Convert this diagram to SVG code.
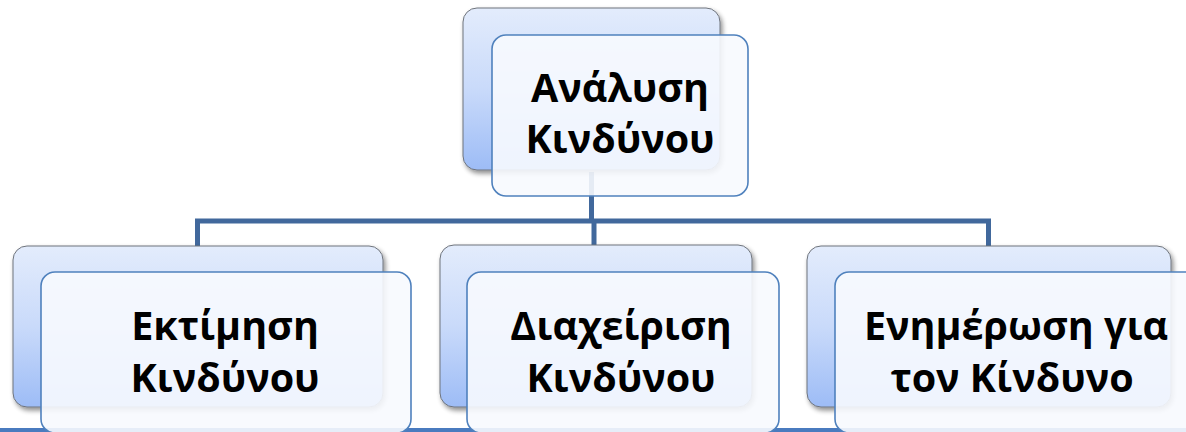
<svg xmlns="http://www.w3.org/2000/svg" width="1186" height="432" viewBox="0 0 1186 432">
<style>
.back{fill:url(#bg);stroke:#6f747c;stroke-width:1;filter:url(#sh)}
.front{fill:#f7f9fe;fill-opacity:0.9;stroke:#4f81bd;stroke-width:1.6}
.conn{fill:none;stroke:#41689c;stroke-width:5}
.lbl{font-family:"Open Sans","DejaVu Sans",sans-serif;font-weight:700;font-size:39.5px;fill:#000;text-anchor:middle}
</style>
<defs>
<linearGradient id="bg" x1="0" y1="0" x2="0" y2="1">
<stop offset="0" stop-color="#e3ecfc"/>
<stop offset="0.5" stop-color="#c9dafa"/>
<stop offset="1" stop-color="#9dbcf6"/>
</linearGradient>
<filter id="sh" x="-10%" y="-10%" width="120%" height="125%">
<feGaussianBlur in="SourceAlpha" stdDeviation="2.5"/>
<feOffset dx="2" dy="3" result="b"/>
<feComponentTransfer><feFuncA type="linear" slope="0.45"/></feComponentTransfer>
<feMerge><feMergeNode/><feMergeNode in="SourceGraphic"/></feMerge>
</filter>
</defs>
<rect x="0" y="428" width="1186" height="4" fill="#4a7bbf"/>
<g id="connectors">
<path class="conn" d="M591.5 172 V221"/>
<path class="conn" d="M197.5 246 V221 H988.5 V246 M594 221 V246"/>
</g>
<g id="node-top">
<rect class="back" x="463" y="8" width="257" height="162" rx="14"/>
<rect class="front" x="492" y="35" width="256" height="161" rx="14"/>
<text class="lbl" x="620" y="102">Ανάλυση</text>
<text class="lbl" x="620" y="153">Κινδύνου</text>
</g>
<g id="node-left">
<rect class="back" x="13" y="246" width="370" height="161" rx="14"/>
<rect class="front" x="41" y="272" width="370" height="161" rx="14"/>
<text class="lbl" x="225" y="340">Εκτίμηση</text>
<text class="lbl" x="225" y="392">Κινδύνου</text>
</g>
<g id="node-middle">
<rect class="back" x="440" y="245" width="312" height="162" rx="14"/>
<rect class="front" x="467" y="272" width="312" height="161" rx="14"/>
<text class="lbl" x="621" y="340">Διαχείριση</text>
<text class="lbl" x="621" y="392">Κινδύνου</text>
</g>
<g id="node-right">
<rect class="back" x="807" y="246" width="364" height="161" rx="14"/>
<rect class="front" x="835" y="272" width="370" height="161" rx="14"/>
<text class="lbl" x="1016" y="340">Ενημέρωση για</text>
<text class="lbl" x="1012" y="392">τον Κίνδυνο</text>
</g>
</svg>
